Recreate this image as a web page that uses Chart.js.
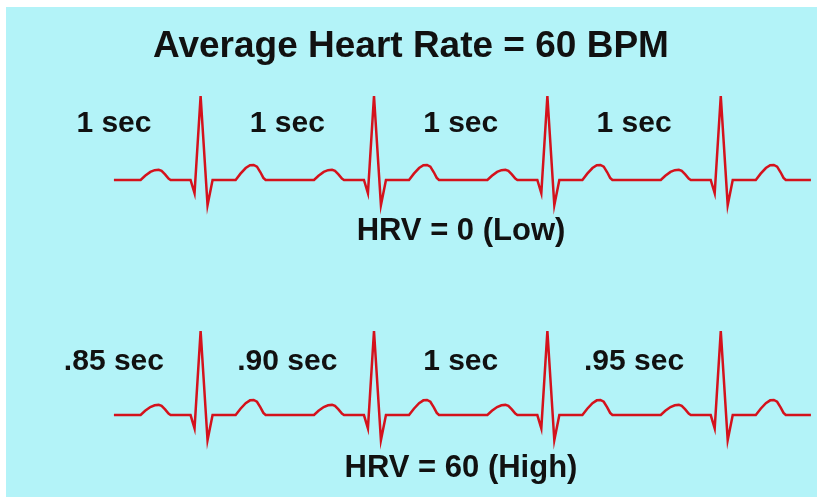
<!DOCTYPE html>
<html>
<head>
<meta charset="utf-8">
<script src="https://cdn.jsdelivr.net/npm/chart.js@4"></script>
<style>
  body { margin: 0; background: #fff; }
  #panel { position: absolute; left: 6px; top: 7px; width: 811px; height: 490px; background: #b3f3f8; }
  #ecg { position: absolute; left: 0; top: 0; }
</style>
</head>
<body>
<div id="panel"></div>
<canvas id="ecg" width="817" height="497"></canvas>
<script>
// R-peak times of the four beats (seconds), same for both strips
var beatTimes = [0.5, 1.5, 2.5, 3.5];
var traceStart = 0;
var traceEnd = 4.02;

// one PQRST complex: time from R peak (s) and amplitude (mV)
var waveOffset = [-0.346, -0.32, -0.29, -0.265, -0.242, -0.225, -0.205, -0.185, -0.173,
  -0.058, -0.035, 0, 0.040, 0.069,
  0.202, 0.23, 0.26, 0.285, 0.306, 0.325, 0.345, 0.362, 0.375];
var waveAmp = [0, 0.06, 0.115, 0.14, 0.145, 0.13, 0.08, 0.02, 0,
  0, -0.19, 1.2, -0.36, 0,
  0, 0.09, 0.17, 0.21, 0.215, 0.19, 0.11, 0.03, 0];

var topLabels = ["1 sec", "1 sec", "1 sec", "1 sec"];
var bottomLabels = [".85 sec", ".90 sec", "1 sec", ".95 sec"];
var titleText = "Average Heart Rate = 60 BPM";
var topCaption = "HRV = 0 (Low)";
var bottomCaption = "HRV = 60 (High)";

function buildTrace() {
  var pts = [{ x: traceStart, y: 0 }];
  beatTimes.forEach(function (t) {
    for (var i = 0; i < waveOffset.length; i++) {
      pts.push({ x: t + waveOffset[i], y: waveAmp[i] });
    }
  });
  pts.push({ x: traceEnd, y: 0 });
  return pts;
}

var FONT = '"Liberation Sans", Arial, sans-serif';

var textPlugin = {
  id: "texts",
  afterDraw: function (chart) {
    var ctx = chart.ctx;
    var xs = chart.scales.x;
    ctx.save();
    ctx.fillStyle = "#111";
    ctx.textAlign = "center";
    ctx.textBaseline = "alphabetic";

    ctx.font = "bold 37px " + FONT;
    ctx.fillText(titleText, 411, 57);

    ctx.font = "bold 30px " + FONT;
    beatTimes.forEach(function (t, i) {
      // interval label sits midway between the previous beat and this one
      var cx = xs.getPixelForValue(t - 0.5);
      ctx.fillText(topLabels[i], cx, 132);
      ctx.fillText(bottomLabels[i], cx, 370);
    });

    ctx.font = "bold 31px " + FONT;
    ctx.fillText(topCaption, 461, 240);
    ctx.fillText(bottomCaption, 461, 477);
    ctx.restore();
  }
};

var ctx = document.getElementById("ecg");
var chart = new Chart(ctx, {
  type: "scatter",
  data: {
    datasets: [
      {
        label: "HRV low",
        data: buildTrace(),
        yAxisID: "y",
        showLine: true,
        borderColor: "#d4121c",
        borderWidth: 2.5,
        pointRadius: 0,
        fill: false
      },
      {
        label: "HRV high",
        data: buildTrace(),
        yAxisID: "y2",
        showLine: true,
        borderColor: "#d4121c",
        borderWidth: 2.5,
        pointRadius: 0,
        fill: false
      }
    ]
  },
  options: {
    responsive: false,
    animation: false,
    devicePixelRatio: 1,
    layout: { padding: 0 },
    plugins: { legend: { display: false }, tooltip: { enabled: false } },
    scales: {
      x: { type: "linear", display: false, min: -0.657, max: 4.055 },
      y: { display: false, min: -4.529, max: 2.571 },
      y2: { display: false, min: -1.171, max: 5.929 }
    }
  },
  plugins: [textPlugin]
});
</script>
</body>
</html>
